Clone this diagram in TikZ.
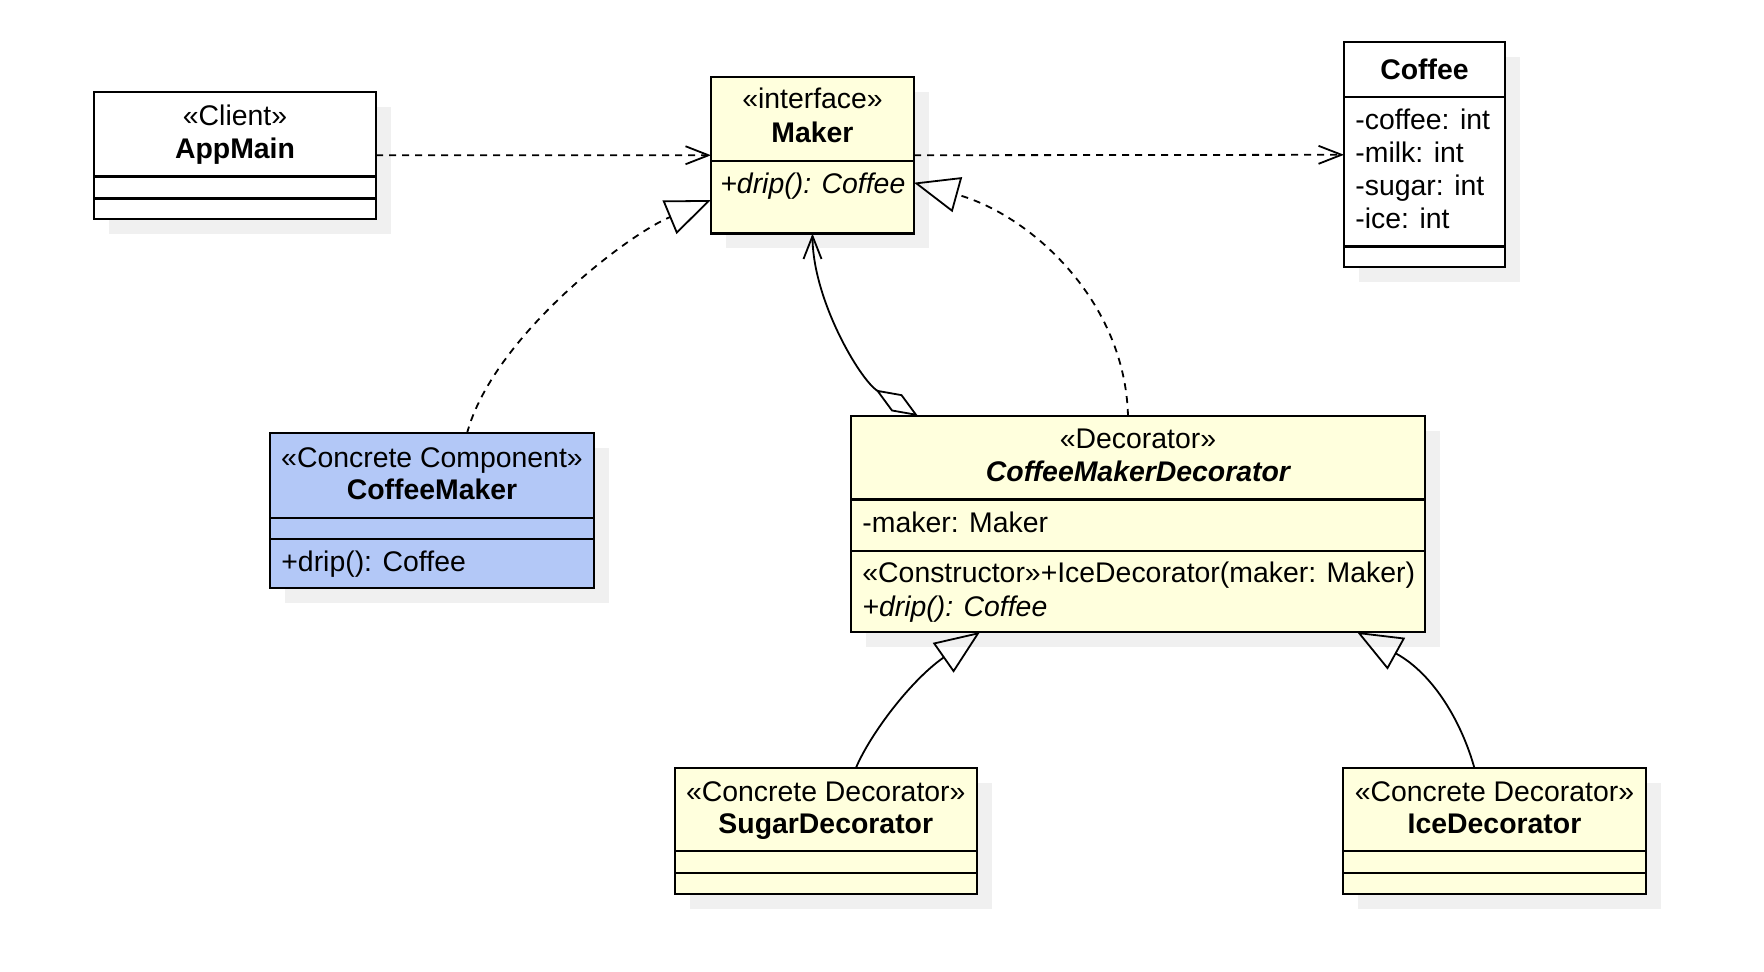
\documentclass[tikz,border=0pt]{standalone}
\usepackage{fontspec}
\setmainfont{Liberation Sans}
\usetikzlibrary{arrows.meta,calc,shadows}
\definecolor{cyellow}{RGB}{255,255,221}
\definecolor{cblue}{RGB}{179,200,247}
\definecolor{shadowgray}{RGB}{240,240,240}
\begin{document}
\begin{tikzpicture}[x=0.5pt,y=-0.5pt,
  box/.style={draw=black, line width=1.1pt, inner sep=0pt, outer sep=0pt, anchor=north west,
    drop shadow={fill=shadowgray, opacity=1, shadow xshift=7.5pt, shadow yshift=-7.5pt}},
  sepline/.style={line width=1.1pt},
  txt/.style={inner sep=0pt, anchor=base, font=\fontsize{14.2}{16.5}\selectfont},
  ltxt/.style={txt, anchor=base west},
  conn/.style={line width=0.9pt},
  dashpat/.style={dash pattern=on 3.5pt off 3pt},
  dep/.style={conn, dashpat, -{Straight Barb[length=11.5pt,width=9pt]}},
  real/.style={conn, dashpat, -{Triangle[open, length=22.5pt, width=18pt]}},
  gen/.style={conn, -{Triangle[open, length=22.5pt, width=18pt]}},
  agg/.style={conn, {Diamond[open, length=25pt, width=10pt]}-{Straight Barb[length=11.5pt,width=9pt]}}
]
\useasboundingbox (0,0) rectangle (1764,972);

% ---------- boxes ----------
\node[box, fill=white,  minimum width=141pt,   minimum height=63.35pt] (appmain) at (94,92) {};
\node[box, fill=cyellow, minimum width=101.5pt, minimum height=78.25pt] (maker) at (711,77) {};
\node[box, fill=white,  minimum width=80.35pt, minimum height=112.5pt] (coffee) at (1344,42.3) {};
\node[box, fill=cblue,  minimum width=162.15pt, minimum height=77.2pt] (cm) at (270,433.3) {};
\node[box, fill=cyellow, minimum width=287pt,   minimum height=108pt] (dec) at (851,416) {};
\node[box, fill=cyellow, minimum width=150.85pt, minimum height=63.15pt] (sugar) at (675,767.7) {};
\node[box, fill=cyellow, minimum width=151.2pt, minimum height=63.15pt] (ice) at (1343.3,767.7) {};

% ---------- compartment separators ----------
\foreach \n/\o in {appmain/84.5, appmain/106.5, maker/84, coffee/54.4, coffee/204.2,
                   cm/84.4, cm/105.7, dec/83.5, dec/135, sugar/83.3, sugar/105.6, ice/83.3, ice/105.6}
  \draw[sepline] ($(\n.north west)+(0,\o)$) -- ($(\n.north east)+(0,\o)$);

% ---------- texts ----------
\node[txt] (t-am1) at (235,126) {«Client»};
\node[txt] (t-am2) at (235,158.5) {\bfseries AppMain};

\node[txt] (t-mk1) at (812.5,109) {«interface»};
\node[txt] (t-mk2) at (812.5,142.5) {\bfseries Maker};
\node[ltxt] (t-mk3) at (720,193.4) {\itshape +drip(): Coffee};

\node[txt] (t-cf1) at (1424.5,79.5) {\bfseries Coffee};
\node[ltxt] (t-cf2) at (1355,129.3) {-coffee: int};
\node[ltxt] (t-cf3) at (1355,163) {-milk: int};
\node[ltxt] (t-cf4) at (1355,195.5) {-sugar: int};
\node[ltxt] (t-cf5) at (1355,228.3) {-ice: int};

\node[txt] (t-cm1) at (432,467) {«Concrete Component»};
\node[txt] (t-cm2) at (432,499.5) {\bfseries CoffeeMaker};
\node[ltxt] (t-cm3) at (281,571.5) {+drip(): Coffee};

\node[txt] (t-dc1) at (1138,448.75) {«Decorator»};
\node[txt] (t-dc2) at (1138,481) {\bfseries\itshape CoffeeMakerDecorator};
\node[ltxt] (t-dc3) at (862,532) {-maker: Maker};
\node[ltxt] (t-dc4) at (862,582.6) {«Constructor»+IceDecorator(maker: Maker)};
\node[ltxt] (t-dc5) at (862,616.4) {\itshape +drip(): Coffee};

\node[txt] (t-sg1) at (825.8,801) {«Concrete Decorator»};
\node[txt] (t-sg2) at (825.8,833.5) {\bfseries SugarDecorator};

\node[txt] (t-ic1) at (1494.5,801) {«Concrete Decorator»};
\node[txt] (t-ic2) at (1494.5,833.5) {\bfseries IceDecorator};

% ---------- connectors ----------
\draw[dep] (appmain.east) -- (maker.west);
\draw[dep] (maker.east) -- (coffee.west);

\draw[real] ($(cm.north west)+(197,0)$) .. controls +(26,-96) and +(-84,35) .. ($(maker.north west)+(0,123)$);
\draw[real] ($(dec.north west)+(277,0)$) .. controls +(-3,-116) and +(116,32) .. ($(maker.north east)+(0,105.7)$);

\draw[agg] ($(dec.north west)+(67,0)$) .. controls +(-58,-36) and +(0,66) .. (maker.south);

\draw[gen] ($(sugar.north west)+(181,0)$) .. controls +(14,-33) and +(-70,49) .. ($(dec.south west)+(129,0)$);
\draw[gen] ($(ice.north west)+(131,0)$) .. controls +(-12,-43) and +(78,43) .. ($(dec.south west)+(506,0)$);
\end{tikzpicture}
\end{document}
